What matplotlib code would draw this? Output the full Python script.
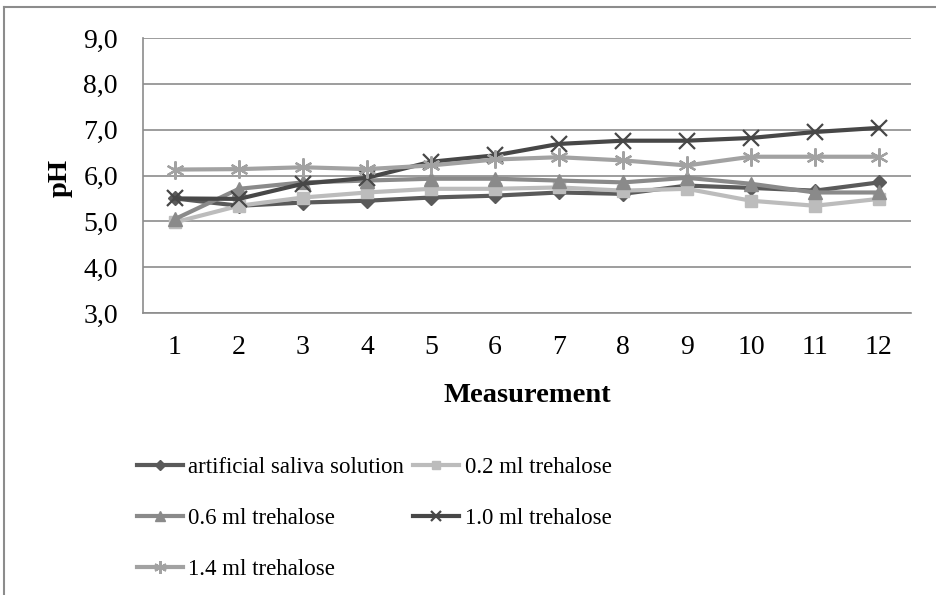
import matplotlib.pyplot as plt
from matplotlib.lines import Line2D
from matplotlib.ticker import FuncFormatter

plt.rcParams['font.family'] = ['Liberation Serif', 'DejaVu Serif']

measurements = list(range(1, 13))

saliva = [5.50, 5.34, 5.41, 5.45, 5.52, 5.56, 5.63, 5.60, 5.78, 5.73, 5.67, 5.85]
tre_02 = [4.98, 5.34, 5.52, 5.63, 5.71, 5.71, 5.74, 5.67, 5.71, 5.45, 5.34, 5.49]
tre_06 = [5.05, 5.71, 5.85, 5.89, 5.93, 5.93, 5.89, 5.85, 5.95, 5.82, 5.63, 5.63]
tre_10 = [5.50, 5.49, 5.82, 5.95, 6.30, 6.44, 6.69, 6.76, 6.76, 6.82, 6.95, 7.04]
tre_14 = [6.13, 6.14, 6.18, 6.14, 6.22, 6.35, 6.40, 6.33, 6.22, 6.41, 6.41, 6.41]

labels = ["artificial saliva solution", "0.2 ml trehalose", "0.6 ml trehalose",
          "1.0 ml trehalose", "1.4 ml trehalose"]
series = [saliva, tre_02, tre_06, tre_10, tre_14]
colors = ["#5a5a5a", "#bcbcbc", "#8a8a8a", "#474747", "#a2a2a2"]
markers = ["D", "s", "^", "x", (6, 2, 0)]
msizes = [7, 9, 10, 11, 13]

fig = plt.figure(figsize=(9.37, 5.95), dpi=100)
ax = fig.add_axes([0.1526, 0.474, 0.8196, 0.462])

for vals, lab, c, m, ms in zip(series, labels, colors, markers, msizes):
    thin = m == "x" or isinstance(m, tuple)
    ax.plot(measurements, vals, color=c, lw=3.0, marker=m, ms=ms,
            mew=1.6 if thin else 1, mec=c, mfc=c, label=lab)

ax.set_xlim(0.5, 12.5)
ax.set_ylim(3, 9)
ax.set_yticks([3, 4, 5, 6, 7, 8, 9])
ax.set_xticks(measurements)
ax.yaxis.set_major_formatter(FuncFormatter(lambda v, p: f"{v:.1f}".replace(".", ",")))
ax.grid(axis="y", color="#8c8c8c", lw=1.2)
ax.set_axisbelow(True)
for s in ["top", "right"]:
    ax.spines[s].set_visible(False)
for s in ["left", "bottom"]:
    ax.spines[s].set_color("#8c8c8c")
    ax.spines[s].set_linewidth(1.2)
ax.tick_params(length=0, labelsize=20)
ax.tick_params(axis="y", pad=18)
ax.tick_params(axis="x", pad=16)
ax.set_ylabel("pH", fontsize=20.5, fontweight="bold")
ax.yaxis.set_label_coords(-0.091, 0.493)
ax.set_xlabel("Measurement", fontsize=20.5, fontweight="bold")
ax.xaxis.set_label_coords(0.5, -0.255)

handles, labs = ax.get_legend_handles_labels()
order = [0, 2, 4, 1, 3]
leg = fig.legend([handles[i] for i in order], [labs[i] for i in order],
                 ncol=2, loc="upper left", bbox_to_anchor=(0.146, 0.232),
                 frameon=False, fontsize=16.5, handlelength=2.0,
                 handletextpad=0.25, columnspacing=0.4, labelspacing=1.3,
                 borderaxespad=0, borderpad=0, markerscale=0.7)

fig.add_artist(Line2D([0.0045, 0.0045], [0, 0.988], color="#8c8c8c", lw=1.5))
fig.add_artist(Line2D([0.0045, 1.0], [0.988, 0.988], color="#8c8c8c", lw=1.5))

fig.savefig("out.png", dpi=100)
